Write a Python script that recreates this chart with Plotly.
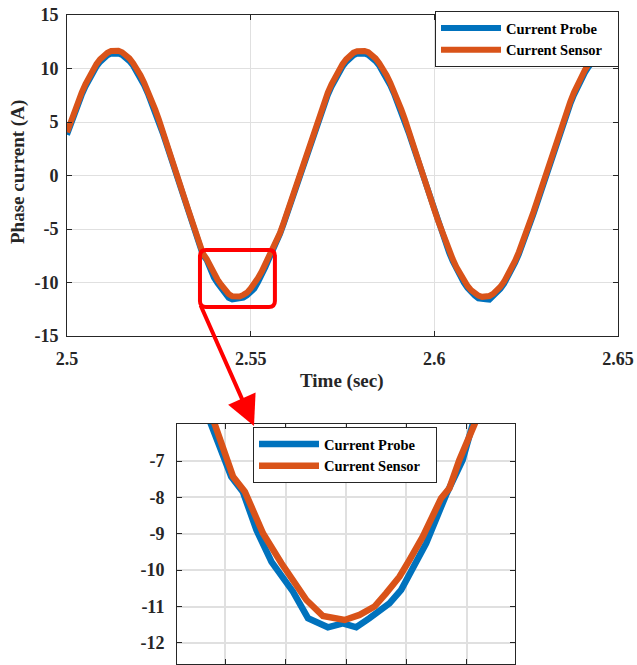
import plotly.graph_objects as go

# ---------------- data ----------------
# main panel: samples every 1 ms from 2.500 s to 2.650 s
t_start = 2.5
n_samples = 151
time_s = [round(t_start + 0.001 * i, 3) for i in range(n_samples)]

current_sensor = [
    4.04, 5.04, 6.00, 6.90, 7.75, 8.53, 9.24, 9.86, 10.41, 10.86, 11.22, 11.48, 11.64, 11.70, 11.66, 11.52, 11.28,
    10.94, 10.50, 9.98, 9.37, 8.68, 7.91, 7.08, 6.18, 5.24, 4.24, 3.22, 2.16, 1.09, 0.01, -1.07, -2.14, -3.19, -4.21,
    -5.25, -6.34, -7.29, -7.79, -8.51, -9.19, -9.73, -10.22, -10.71, -11.07, -11.28, -11.34, -11.30, -11.16, -10.95,
    -10.56, -10.14, -9.58, -8.98, -8.28, -7.77, -6.88, -6.10, -5.35, -4.40, -3.39,
    -2.35, -1.29, -0.21, 0.87, 1.95, 3.00,
    4.04, 5.04, 6.00, 6.90, 7.75, 8.53, 9.24, 9.86, 10.41, 10.86, 11.22, 11.48, 11.62, 11.67, 11.64, 11.52, 11.28,
    10.94, 10.50, 9.98, 9.37, 8.68, 7.91, 7.08, 6.18, 5.24, 4.24, 3.22, 2.16, 1.09, 0.01, -1.07, -2.14, -3.19, -4.21,
    -5.18, -6.12, -6.99, -7.81, -8.55, -9.22, -9.81, -10.30, -10.71, -11.02, -11.23, -11.34, -11.35, -11.26, -11.07,
    -10.78, -10.39, -9.91, -9.35, -8.69, -7.96, -7.16, -6.30, -5.37, -4.40, -3.39,
    -2.35, -1.29, -0.21, 0.87, 1.95, 3.00,
    4.04, 5.04, 6.00, 6.90, 7.75, 8.53, 9.24, 9.86, 10.41, 10.86, 11.22, 11.48, 11.64, 11.70, 11.66, 11.52, 11.28,
]

current_probe = [
    3.81, 4.81, 5.76, 6.66, 7.51, 8.29, 8.99, 9.62, 10.16, 10.61, 10.97, 11.23, 11.39, 11.45, 11.41, 11.27, 11.03,
    10.69, 10.26, 9.73, 9.12, 8.44, 7.67, 6.84, 5.95, 5.00, 4.01, 2.99, 1.93, 0.87, -0.21, -1.29, -2.35, -3.40, -4.41,
    -5.60, -6.63, -7.44, -7.89, -8.82, -9.54, -10.08, -10.54, -11.11, -11.42, -11.57, -11.48, -11.53, -11.42, -11.20,
    -10.94, -10.57, -9.97, -9.35, -8.57, -7.78, -7.08, -6.15, -5.45, -4.50, -3.50,
    -2.57, -1.50, -0.43, 0.65, 1.72, 2.78,
    3.81, 4.81, 5.76, 6.66, 7.51, 8.29, 8.99, 9.62, 10.16, 10.61, 10.97, 11.23, 11.39, 11.45, 11.41, 11.27, 11.03,
    10.69, 10.26, 9.73, 9.12, 8.44, 7.67, 6.84, 5.95, 5.00, 4.01, 2.99, 1.93, 0.87, -0.21, -1.29, -2.35, -3.40, -4.41,
    -5.39, -6.32, -7.20, -8.01, -8.75, -9.42, -10.00, -10.50, -10.90, -11.21, -11.48, -11.58, -11.56, -11.60, -11.30,
    -10.97, -10.59, -10.11, -9.54, -8.89, -8.16, -7.37, -6.50, -5.58, -4.61, -3.60,
    -2.57, -1.50, -0.43, 0.65, 1.72, 2.78,
    3.81, 4.81, 5.76, 6.66, 7.51, 8.29, 8.99, 9.62, 10.16, 10.61, 10.97, 11.23, 11.39, 11.45, 11.41, 11.27, 11.03,
]

assert len(current_sensor) == n_samples and len(current_probe) == n_samples

# zoomed panel readings
zoom_time_sensor = [2.53540, 2.53564, 2.53715, 2.53812, 2.53963, 2.54115, 2.54322, 2.54459, 2.54542, 2.54638,
                    2.54762, 2.54886, 2.54983, 2.55093, 2.55176, 2.55286, 2.55438, 2.55506, 2.55589, 2.55713, 2.55740]
zoom_sensor = [-5.77, -6.00, -7.43, -7.84, -8.99, -9.81, -10.82, -11.26, -11.30, -11.37,
               -11.23, -11.00, -10.63, -10.18, -9.72, -9.08, -8.02, -7.75, -6.97, -6.00, -5.79]
zoom_time_probe = [2.53510, 2.53533, 2.53699, 2.53795, 2.53909, 2.54033, 2.54211, 2.54335, 2.54500, 2.54624,
                   2.54735, 2.54845, 2.54928, 2.55010, 2.55107, 2.55203, 2.55314, 2.55479, 2.55616, 2.55699, 2.55725]
zoom_probe = [-5.80, -6.00, -7.43, -7.84, -8.90, -9.77, -10.59, -11.32, -11.57, -11.46,
              -11.57, -11.32, -11.14, -10.91, -10.54, -9.95, -9.26, -7.93, -6.97, -6.00, -5.75]

series_names = ["Current Probe", "Current Sensor"]
main_xticks = [2.5, 2.55, 2.6, 2.65]
main_xticklabels = ["2.5", "2.55", "2.6", "2.65"]
main_yticks = [-15, -10, -5, 0, 5, 10, 15]
main_yticklabels = ["-15", "-10", "-5", "0", "5", "10", "15"]
zoom_yticks = [-12, -11, -10, -9, -8, -7]
zoom_yticklabels = ["-12", "-11", "-10", "-9", "-8", "-7"]

# ---------------- styling ----------------
W, H = 637, 665
BLUE = "#0072BD"
ORANGE = "#D95319"
AX = "#262626"
FONT = "Liberation Serif, Times New Roman, serif"
PAD = "\u00a0\u00a0\u00a0"  # extra room on the right of legend labels


def px_x(p):
    return p / W


def px_y(p):
    return (H - p) / H


fig = go.Figure()
fig.add_trace(go.Scatter(x=time_s, y=current_probe, mode="lines", name=series_names[0] + PAD,
                         line=dict(color=BLUE, width=6), xaxis="x", yaxis="y", legend="legend"))
fig.add_trace(go.Scatter(x=time_s, y=current_sensor, mode="lines", name=series_names[1] + PAD,
                         line=dict(color=ORANGE, width=6), xaxis="x", yaxis="y", legend="legend"))
fig.add_trace(go.Scatter(x=zoom_time_probe, y=zoom_probe, mode="lines", name=series_names[0] + PAD,
                         line=dict(color=BLUE, width=6.5), xaxis="x2", yaxis="y2", legend="legend2"))
fig.add_trace(go.Scatter(x=zoom_time_sensor, y=zoom_sensor, mode="lines", name=series_names[1] + PAD,
                         line=dict(color=ORANGE, width=6.5), xaxis="x2", yaxis="y2", legend="legend2"))

tickfont = dict(family=FONT, size=18, color=AX, weight="bold")
common = dict(showline=True, linecolor=AX, linewidth=1, mirror="ticks", ticks="inside", ticklen=5,
              tickcolor=AX, zeroline=False, showgrid=True, tickfont=tickfont, automargin=False)
legfont = dict(family=FONT, size=14.5, color="black", weight="bold")

fig.update_layout(
    width=W, height=H, margin=dict(l=0, r=0, t=0, b=0, autoexpand=False),
    paper_bgcolor="white", plot_bgcolor="white",
    xaxis=dict(domain=[px_x(67), px_x(618)], range=[2.5, 2.65], tickvals=main_xticks,
               ticktext=main_xticklabels, anchor="y", gridcolor="#e0e0e0", gridwidth=1,
               ticklabelstandoff=6, **common),
    yaxis=dict(domain=[px_y(336), px_y(15)], range=[-15, 15], tickvals=main_yticks,
               ticktext=main_yticklabels, anchor="x",
               gridcolor="#e0e0e0", gridwidth=1, ticklabelstandoff=4, **common),
    xaxis2=dict(domain=[px_x(177), px_x(515)], range=[2.5325, 2.5605], tick0=2.5365, dtick=0.005,
                showticklabels=False, anchor="y2", gridcolor="#e0e0e0", gridwidth=2, **common),
    yaxis2=dict(domain=[px_y(664), px_y(424)], range=[-12.58, -5.98], tickvals=zoom_yticks,
                ticktext=zoom_yticklabels, anchor="x2",
                gridcolor="#e0e0e0", gridwidth=2, ticklabelstandoff=8, **common),
    legend=dict(x=px_x(619), xanchor="right", y=px_y(11), yanchor="top", bgcolor="white",
                bordercolor=AX, borderwidth=1, itemwidth=60, tracegroupgap=0, font=legfont),
    legend2=dict(x=px_x(437), xanchor="right", y=px_y(427), yanchor="top", bgcolor="white",
                 bordercolor=AX, borderwidth=1, itemwidth=60, tracegroupgap=0, font=legfont),
    showlegend=True,
)

# axis titles
fig.add_annotation(text="Phase current (A)", xref="paper", yref="paper", x=px_x(18), y=px_y(172),
                   textangle=-90, showarrow=False, xanchor="center", yanchor="middle",
                   font=dict(family=FONT, size=19, color=AX, weight="bold"))
fig.add_annotation(text="Time (sec)", xref="paper", yref="paper", x=px_x(342), y=px_y(381),
                   showarrow=False, xanchor="center", yanchor="middle",
                   font=dict(family=FONT, size=19, color=AX, weight="bold"))

# red rounded rectangle marking the zoomed region
x0, x1, ytop, ybot = 2.5362, 2.5566, -6.96, -12.29
rx, ry = 0.0016, 0.55
path = (f"M {x0+rx},{ytop} L {x1-rx},{ytop} Q {x1},{ytop} {x1},{ytop-ry} "
        f"L {x1},{ybot+ry} Q {x1},{ybot} {x1-rx},{ybot} "
        f"L {x0+rx},{ybot} Q {x0},{ybot} {x0},{ybot+ry} "
        f"L {x0},{ytop-ry} Q {x0},{ytop} {x0+rx},{ytop} Z")
fig.add_shape(type="path", path=path, xref="x", yref="y", line=dict(color="#FF0000", width=4))

# red arrow to the zoomed panel
fig.add_annotation(text="", xref="paper", yref="paper", x=px_x(254), y=px_y(426),
                   ax=200 - 254, ay=304 - 426, axref="pixel", ayref="pixel",
                   showarrow=True, arrowhead=2, arrowsize=1.5, arrowwidth=4, arrowcolor="#FF0000")

fig.write_html("out.html")
